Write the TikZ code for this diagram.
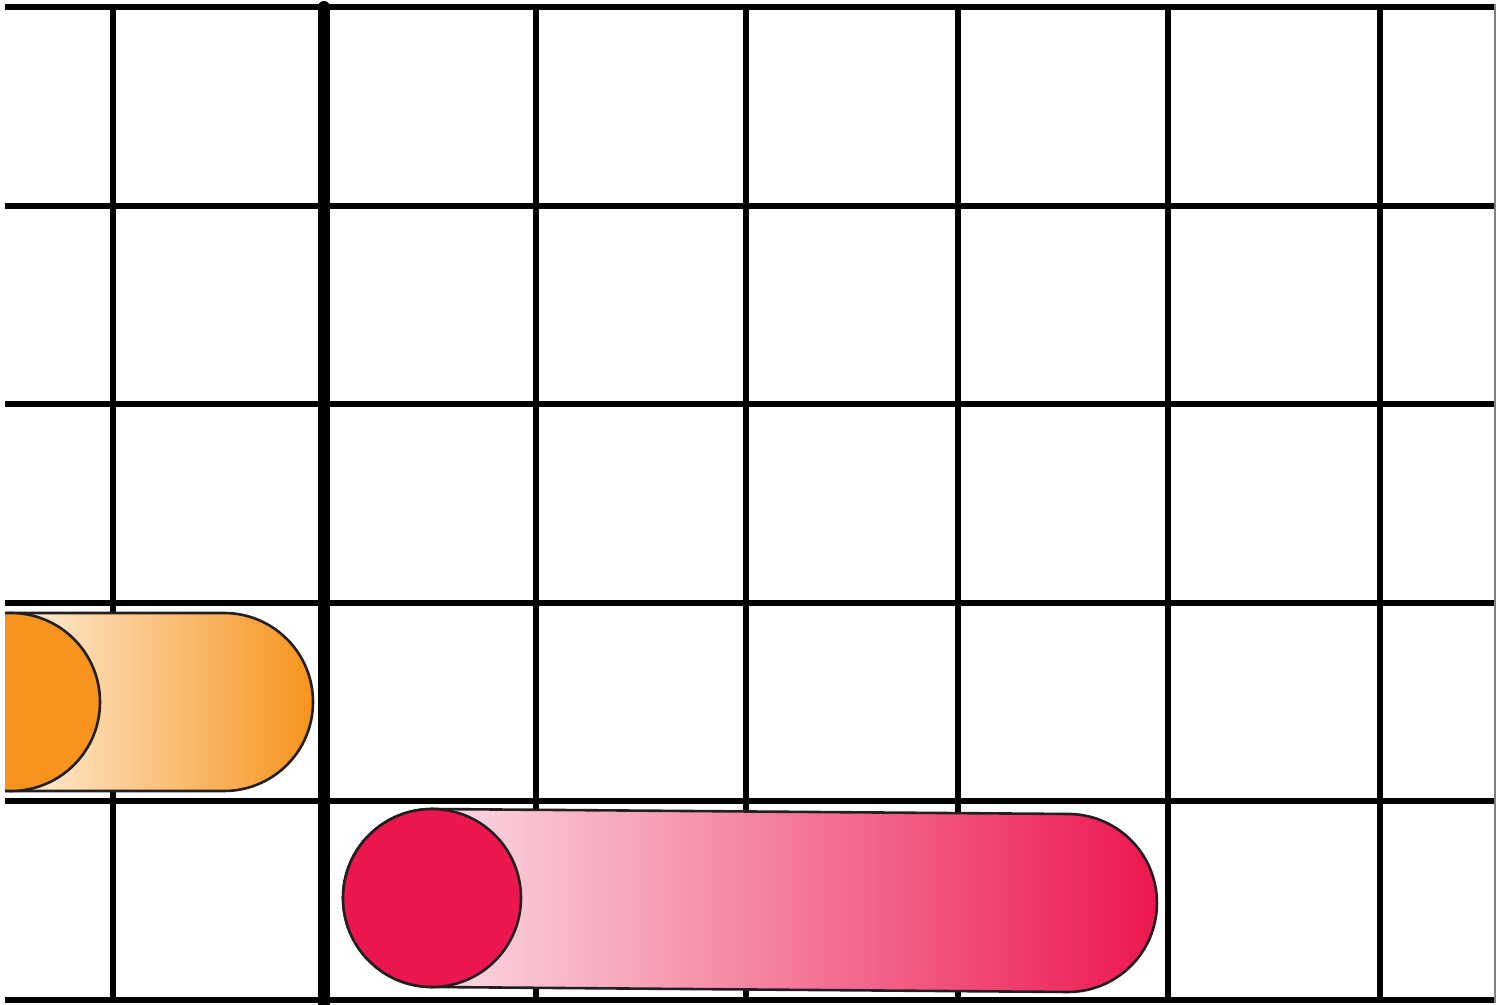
\documentclass[tikz,border=0pt]{standalone}
\definecolor{gridk}{HTML}{000000}
\definecolor{edge}{HTML}{231F20}
\definecolor{orng}{HTML}{F7941D}
\definecolor{orngl}{HTML}{FEF0DE}
\definecolor{pnk}{HTML}{ED174F}
\definecolor{pnkl}{HTML}{FDF3F6}
\begin{document}
\begin{tikzpicture}[x=1pt,y=1pt,
  gridline/.style={line width=6pt,gridk},
  outline/.style={draw=edge,line width=2.6pt}]
\useasboundingbox (0,0) rectangle (1509,1004);
\fill[white] (0,0) rectangle (1509,1004);
% horizontal grid lines
\foreach \yy in {997,798,600,401,203,4}
  \draw[gridline] (5,\yy) -- (1495,\yy);
% vertical grid lines
\foreach \xx in {113,536,746,958,1168,1380}
  \draw[gridline] (\xx,997) -- (\xx,4);
\begin{scope}
  \clip (0,0) rectangle (1509,1004);
  \draw[gridk,line width=12pt,line cap=round] (324,997) -- (324,-20);
\end{scope}
\draw[gray,line width=1.2pt] (1495,1000) -- (1495,1);
% orange pill
\begin{scope}
  \clip (5,0) rectangle (1509,1004);
  \shade[left color=orngl,right color=orng]
    (5,391) -- (224,391) arc[start angle=90,end angle=-90,radius=89] -- (5,213) -- cycle;
  \draw[outline] (0,391) -- (224,391) arc[start angle=90,end angle=-90,radius=89] -- (0,213);
  \filldraw[fill=orng,outline] (11,302) circle[radius=89];
\end{scope}
% pink pill
\begin{scope}[rotate around={-0.45:(432,106)}]
  \shade[left color=pnkl,right color=pnk,outline]
    (432,195) -- (1068,195) arc[start angle=90,end angle=-90,radius=89]
    -- (432,17) arc[start angle=270,end angle=90,radius=89] -- cycle;
  \filldraw[fill=pnk,outline] (432,106) circle[radius=89];
\end{scope}
\end{tikzpicture}
\end{document}
